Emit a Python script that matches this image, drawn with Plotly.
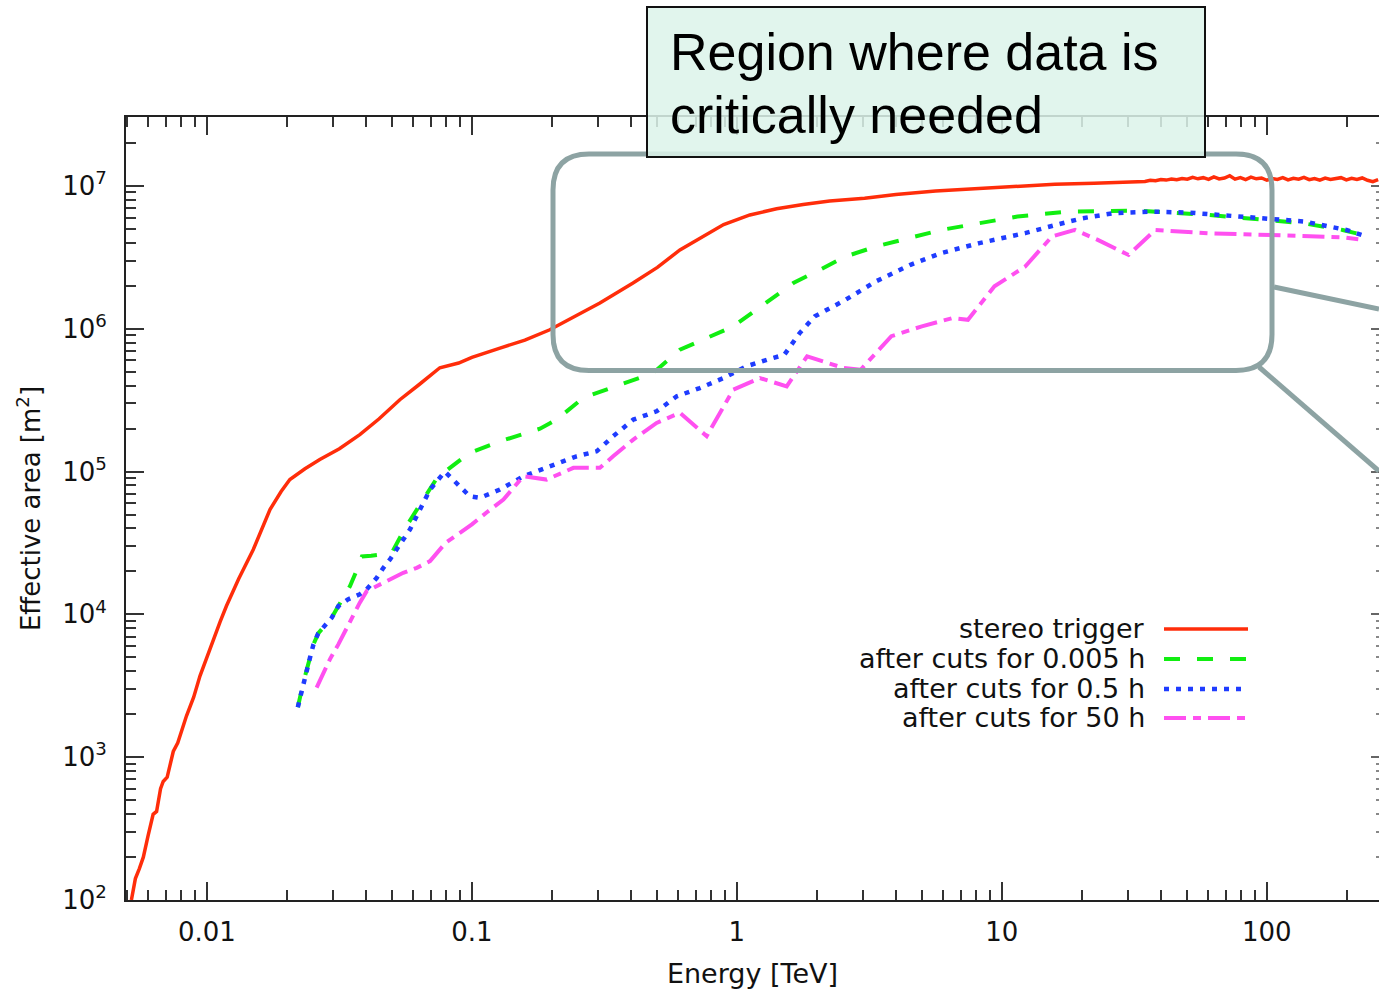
import numpy as np
import plotly.graph_objects as go

W, H = 1379, 992
ML, MR, MT, MB = 126, 0, 117, 92

# ---- data: log10(E / TeV) and log10(A_eff / m^2) ----
stereo_logE = [-2.285, -2.270, -2.255, -2.240, -2.222, -2.203, -2.190, -2.175, -2.165, -2.150,
               -2.127, -2.110, -2.077, -2.050, -2.026, -2.000, -1.976, -1.950, -1.926, -1.880,
               -1.825, -1.762, -1.720, -1.687, -1.630, -1.574, -1.500, -1.423, -1.350, -1.272,
               -1.200, -1.121, -1.050, -1.000, -0.894, -0.800, -0.706, -0.600, -0.517, -0.392,
               -0.300, -0.215, -0.140, -0.050, 0.049, 0.150, 0.250, 0.350, 0.482, 0.600,
               0.750, 0.915, 1.050, 1.200, 1.348,
               1.50, 1.52, 1.54, 1.56, 1.58, 1.60, 1.62, 1.64, 1.66, 1.68, 1.70, 1.72, 1.74,
               1.76, 1.78, 1.80, 1.82, 1.84, 1.86, 1.88, 1.90, 1.92, 1.94, 1.96, 1.98, 2.00,
               2.02, 2.04, 2.06, 2.08, 2.10, 2.12, 2.14, 2.16, 2.18, 2.20, 2.22, 2.24, 2.26,
               2.28, 2.30, 2.32, 2.34, 2.36, 2.38, 2.40, 2.42]
stereo_logA = [2.00, 2.15, 2.22, 2.30, 2.45, 2.60, 2.62, 2.78, 2.83, 2.86,
               3.04, 3.10, 3.29, 3.42, 3.57, 3.70, 3.83, 3.95, 4.06, 4.25,
               4.455, 4.734, 4.86, 4.944, 5.02, 5.084, 5.16, 5.259, 5.37, 5.503,
               5.608, 5.727, 5.76, 5.80, 5.865, 5.92, 5.993, 6.10, 6.18, 6.32,
               6.43, 6.552, 6.636, 6.73, 6.797, 6.84, 6.87, 6.895, 6.914, 6.94,
               6.965, 6.984, 7.000, 7.012, 7.019,
               7.030, 7.036, 7.032, 7.040, 7.037, 7.045, 7.041, 7.048, 7.044, 7.052, 7.047, 7.060, 7.050,
               7.058, 7.046, 7.064, 7.049, 7.055, 7.072, 7.048, 7.058, 7.044, 7.062, 7.050, 7.056, 7.040,
               7.052, 7.046, 7.058, 7.042, 7.054, 7.047, 7.060, 7.044, 7.052, 7.041, 7.055, 7.045, 7.050,
               7.058, 7.043, 7.053, 7.046, 7.056, 7.040, 7.030, 7.044]

cut0005_logE = [-1.657, -1.636, -1.611, -1.598, -1.580, -1.529, -1.504, -1.460, -1.430, -1.415,
                -1.380, -1.340, -1.300, -1.253, -1.184, -1.130, -1.083, -1.008, -0.894, -0.800,
                -0.743, -0.680, -0.580, -0.442, -0.316, -0.215, -0.114, -0.014, 0.100, 0.213,
                0.313, 0.410, 0.525, 0.655, 0.771, 0.915, 1.059, 1.247, 1.391, 1.507,
                1.650, 1.781, 1.997, 2.150, 2.286, 2.376]
cut0005_logA = [3.350, 3.524, 3.697, 3.790, 3.867, 3.977, 4.058, 4.198, 4.330, 4.406,
                4.410, 4.420, 4.440, 4.600, 4.804, 4.960, 5.026, 5.131, 5.212, 5.270,
                5.300, 5.364, 5.516, 5.608, 5.690, 5.853, 5.935, 6.016, 6.168, 6.320,
                6.413, 6.506, 6.576, 6.634, 6.692, 6.739, 6.786, 6.820, 6.827, 6.827,
                6.812, 6.797, 6.762, 6.735, 6.692, 6.650]

cut05_logE = [-1.657, -1.636, -1.611, -1.598, -1.580, -1.529, -1.504, -1.468, -1.423, -1.397,
              -1.359, -1.334, -1.309, -1.234, -1.158, -1.102, -1.050, -1.008, -0.970, -0.894,
              -0.806, -0.706, -0.605, -0.529, -0.467, -0.391, -0.303, -0.227, -0.140, -0.050,
              0.036, 0.113, 0.179, 0.237, 0.294, 0.410, 0.525, 0.655, 0.771, 0.915,
              1.088, 1.203, 1.304, 1.420, 1.564, 1.709, 1.925, 2.142, 2.300, 2.357]
cut05_logA = [3.350, 3.524, 3.697, 3.790, 3.867, 3.977, 4.058, 4.105, 4.140, 4.175,
              4.256, 4.326, 4.385, 4.594, 4.874, 5.000, 4.900, 4.827, 4.816, 4.874,
              4.967, 5.038, 5.107, 5.142, 5.247, 5.364, 5.422, 5.527, 5.585, 5.655,
              5.737, 5.783, 5.818, 5.970, 6.087, 6.203, 6.332, 6.448, 6.530, 6.600,
              6.670, 6.727, 6.774, 6.809, 6.820, 6.813, 6.786, 6.751, 6.692, 6.657]

cut50_logE = [-1.586, -1.536, -1.504, -1.460, -1.423, -1.397, -1.359, -1.309, -1.259, -1.208,
              -1.158, -1.100, -1.000, -0.940, -0.881, -0.806, -0.718, -0.617, -0.517, -0.467,
              -0.391, -0.303, -0.215, -0.114, -0.014, 0.087, 0.188, 0.265, 0.401, 0.467,
              0.583, 0.698, 0.814, 0.872, 0.972, 1.088, 1.189, 1.276, 1.362, 1.478,
              1.579, 1.781, 1.997, 2.286, 2.345]
cut50_logA = [3.487, 3.685, 3.790, 3.953, 4.082, 4.163, 4.198, 4.245, 4.291, 4.326,
              4.373, 4.500, 4.630, 4.720, 4.804, 4.967, 4.944, 5.026, 5.026, 5.107,
              5.224, 5.341, 5.411, 5.248, 5.573, 5.655, 5.597, 5.807, 5.726, 5.713,
              5.948, 6.017, 6.075, 6.063, 6.297, 6.436, 6.646, 6.692, 6.622, 6.517,
              6.692, 6.669, 6.657, 6.641, 6.627]

series_names = ["stereo trigger", "after cuts for 0.005 h", "after cuts for 0.5 h", "after cuts for 50 h"]
series_colors = ["#ff2d0a", "#11ee11", "#1f3cff", "#ff50f0"]
series_dash = ["solid", "16px,17px", "5px,7px", "22px,7px,8px,7px"]
series_width = [3.5, 4, 4.5, 4]

x_tick_vals = [0.01, 0.1, 1, 10, 100]
x_tick_text = ["0.01", "0.1", "1", "10", "100"]
y_tick_vals = [1e2, 1e3, 1e4, 1e5, 1e6, 1e7]
y_tick_text = ["10<sup>2</sup>", "10<sup>3</sup>", "10<sup>4</sup>", "10<sup>5</sup>",
               "10<sup>6</sup>", "10<sup>7</sup>"]

x_lo, x_hi = 0.00495, 265.0
y_lo, y_hi = 1e2, 3.04e7

x_minor = [m * 10.0 ** d for d in range(-3, 3) for m in range(2, 10) if x_lo < m * 10.0 ** d < x_hi]
y_minor = [m * 10.0 ** d for d in range(2, 8) for m in range(2, 10) if y_lo < m * 10.0 ** d < y_hi]

PW = W - ML - MR
PH = H - MT - MB


def px(x):
    return (x - ML) / PW


def py(y):
    return (H - MB - y) / PH


FONT = "DejaVu Sans"
TXT = "#111111"
TICKC = "#333333"

fig = go.Figure()
all_series = [(stereo_logE, stereo_logA), (cut0005_logE, cut0005_logA),
              (cut05_logE, cut05_logA), (cut50_logE, cut50_logA)]
for (le, la), name, col, dash, wd in zip(all_series, series_names, series_colors, series_dash, series_width):
    fig.add_trace(go.Scatter(
        x=np.power(10.0, le), y=np.power(10.0, la), mode="lines", name=name,
        line=dict(color=col, width=wd, dash=dash), showlegend=False, hoverinfo="skip"))
# empty trace so the right-hand tick axis is drawn
fig.add_trace(go.Scatter(x=[], y=[], yaxis="y2", showlegend=False, hoverinfo="skip"))

axis_common = dict(
    type="log", showgrid=False, zeroline=False, showline=True, linecolor="#222222", linewidth=2,
    ticks="inside", ticklen=18, tickwidth=1.5, tickcolor=TICKC,
    tickfont=dict(family=FONT, size=26, color=TXT), tickmode="array",
)

fig.update_layout(
    width=W, height=H, margin=dict(l=ML, r=MR, t=MT, b=MB, autoexpand=False),
    paper_bgcolor="white", plot_bgcolor="white",
    xaxis=dict(**axis_common, mirror="ticks", range=[np.log10(x_lo), np.log10(x_hi)],
               tickvals=x_tick_vals, ticktext=x_tick_text, ticklabelstandoff=8,
               minor=dict(tickmode="array", tickvals=x_minor, ticks="inside", ticklen=10,
                          tickwidth=1.5, tickcolor=TICKC, showgrid=False),
               title=dict(text="Energy [TeV]", font=dict(family=FONT, size=27, color=TXT), standoff=18)),
    yaxis=dict(**axis_common, mirror=False, range=[np.log10(y_lo), np.log10(y_hi)],
               tickvals=y_tick_vals, ticktext=y_tick_text, ticklabelstandoff=12,
               minor=dict(tickmode="array", tickvals=y_minor, ticks="inside", ticklen=10,
                          tickwidth=1.5, tickcolor=TICKC, showgrid=False),
               title=dict(text="Effective area [m<sup>2</sup>]", font=dict(family=FONT, size=26, color=TXT),
                          standoff=14)),
    yaxis2=dict(type="log", overlaying="y", side="right", range=[np.log10(y_lo), np.log10(y_hi)],
                showgrid=False, zeroline=False, showline=False, showticklabels=False,
                tickmode="array", tickvals=y_tick_vals, ticks="inside", ticklen=8, tickwidth=1.5,
                tickcolor="#666666",
                minor=dict(tickmode="array", tickvals=y_minor, ticks="inside", ticklen=3,
                           tickwidth=1.5, tickcolor="#888888", showgrid=False)),
)

shapes = []
annotations = []

# rounded highlight frame
x0, x1 = px(553), px(1272)
yT, yB = py(154), py(370.5)
rx, ry = 36 / PW, 36 / PH
path = (f"M {x0 + rx},{yT} L {x1 - rx},{yT} Q {x1},{yT} {x1},{yT - ry} "
        f"L {x1},{yB + ry} Q {x1},{yB} {x1 - rx},{yB} L {x0 + rx},{yB} "
        f"Q {x0},{yB} {x0},{yB + ry} L {x0},{yT - ry} Q {x0},{yT} {x0 + rx},{yT} Z")
FRAME = "#8da3a3"
shapes.append(dict(type="path", xref="paper", yref="paper", path=path,
                   line=dict(color=FRAME, width=5), fillcolor="rgba(0,0,0,0)", layer="above"))
shapes.append(dict(type="line", xref="paper", yref="paper", x0=px(1274), y0=py(287), x1=px(1379), y1=py(309),
                   line=dict(color=FRAME, width=5), layer="above"))
shapes.append(dict(type="line", xref="paper", yref="paper", x0=px(1259), y0=py(367), x1=px(1379), y1=py(471),
                   line=dict(color=FRAME, width=5), layer="above"))

# callout box
shapes.append(dict(type="rect", xref="paper", yref="paper", x0=px(647), x1=px(1205), y0=py(157), y1=py(7),
                   fillcolor="rgba(220,243,234,0.86)", line=dict(color="#111111", width=2), layer="above"))
callout_lines = ["Region where data is", "critically needed"]
callout_y = [52, 115]
for t, yy in zip(callout_lines, callout_y):
    annotations.append(dict(text=t, xref="paper", yref="paper", x=px(668), y=py(yy), xanchor="left",
                            yanchor="middle", showarrow=False,
                            font=dict(family="Liberation Sans, Arial", size=52, color="black")))

# gnuplot-style key: text right-aligned, sample on the right
key_y = [629, 659, 689, 718]
for name, col, dash, wd, yy in zip(series_names, series_colors, series_dash, series_width, key_y):
    annotations.append(dict(text=name, xref="paper", yref="paper", x=px(1147), y=py(yy - 1), xanchor="right",
                            yanchor="middle", showarrow=False, font=dict(family=FONT, size=27, color=TXT)))
    shapes.append(dict(type="line", xref="paper", yref="paper", x0=px(1164), x1=px(1248), y0=py(yy), y1=py(yy),
                       line=dict(color=col, width=wd, dash=dash), layer="above"))

fig.update_layout(shapes=shapes, annotations=annotations)
fig.write_html("out.html")
